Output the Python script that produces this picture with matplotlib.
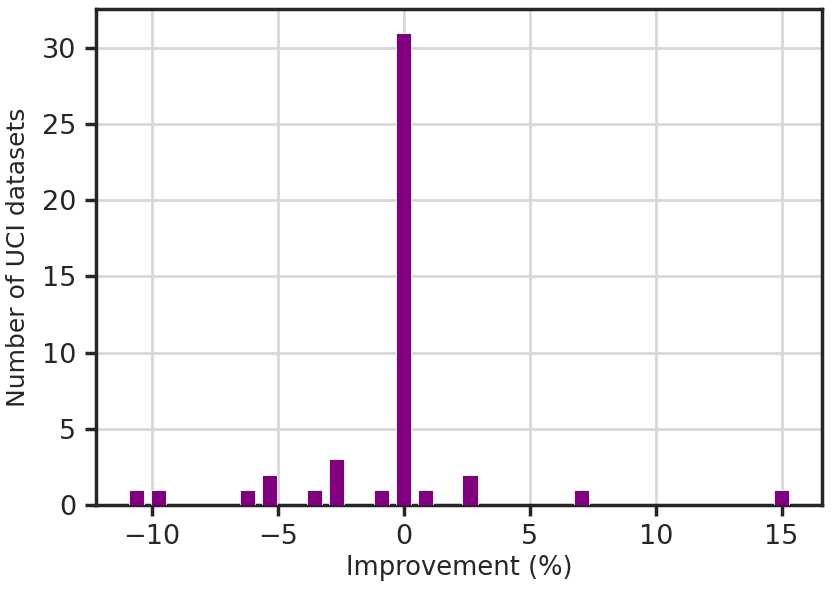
import matplotlib
matplotlib.use('Agg')
import matplotlib.pyplot as plt
import seaborn as sns
import numpy as np

# histogram of improvements: 30 bins between lo and hi
lo = -11.06
hi = 15.43
n_bins = 30
counts = [1, 1, 0, 0, 0, 1, 2, 0, 1, 3,
          0, 1, 31, 1, 0, 2, 0, 0, 0, 0,
          1, 0, 0, 0, 0, 0, 0, 0, 0, 1]

sns.set_style('ticks')
plt.rcParams['font.family'] = ['DejaVu Sans']

edges = np.linspace(lo, hi, n_bins + 1)
centers = (edges[:-1] + edges[1:]) / 2

fig = plt.figure(figsize=(8.31, 5.92), dpi=100)
ax = fig.add_axes([0.1155, 0.147, 0.8735, 0.8378])
ax.hist(centers, bins=edges, weights=counts, rwidth=0.68,
        color='purple', edgecolor='white', linewidth=0.6, zorder=3)

ax.grid(True, color='#d8d8d8', linewidth=2, zorder=0)
ax.set_axisbelow(True)
for s in ax.spines.values():
    s.set_linewidth(2.5)
    s.set_color('#262626')
ax.tick_params(labelsize=19.5, width=2.5, length=8, color='#262626',
               labelcolor='#262626', pad=6)
ax.set_xticks([-10, -5, 0, 5, 10, 15])
ax.set_yticks([0, 5, 10, 15, 20, 25, 30])
ax.set_xlabel('Improvement (%)', fontsize=18.5, color='#262626', labelpad=3)
ax.set_ylabel('Number of UCI datasets', fontsize=18, color='#262626', labelpad=9)

fig.savefig('out.png', dpi=100)
